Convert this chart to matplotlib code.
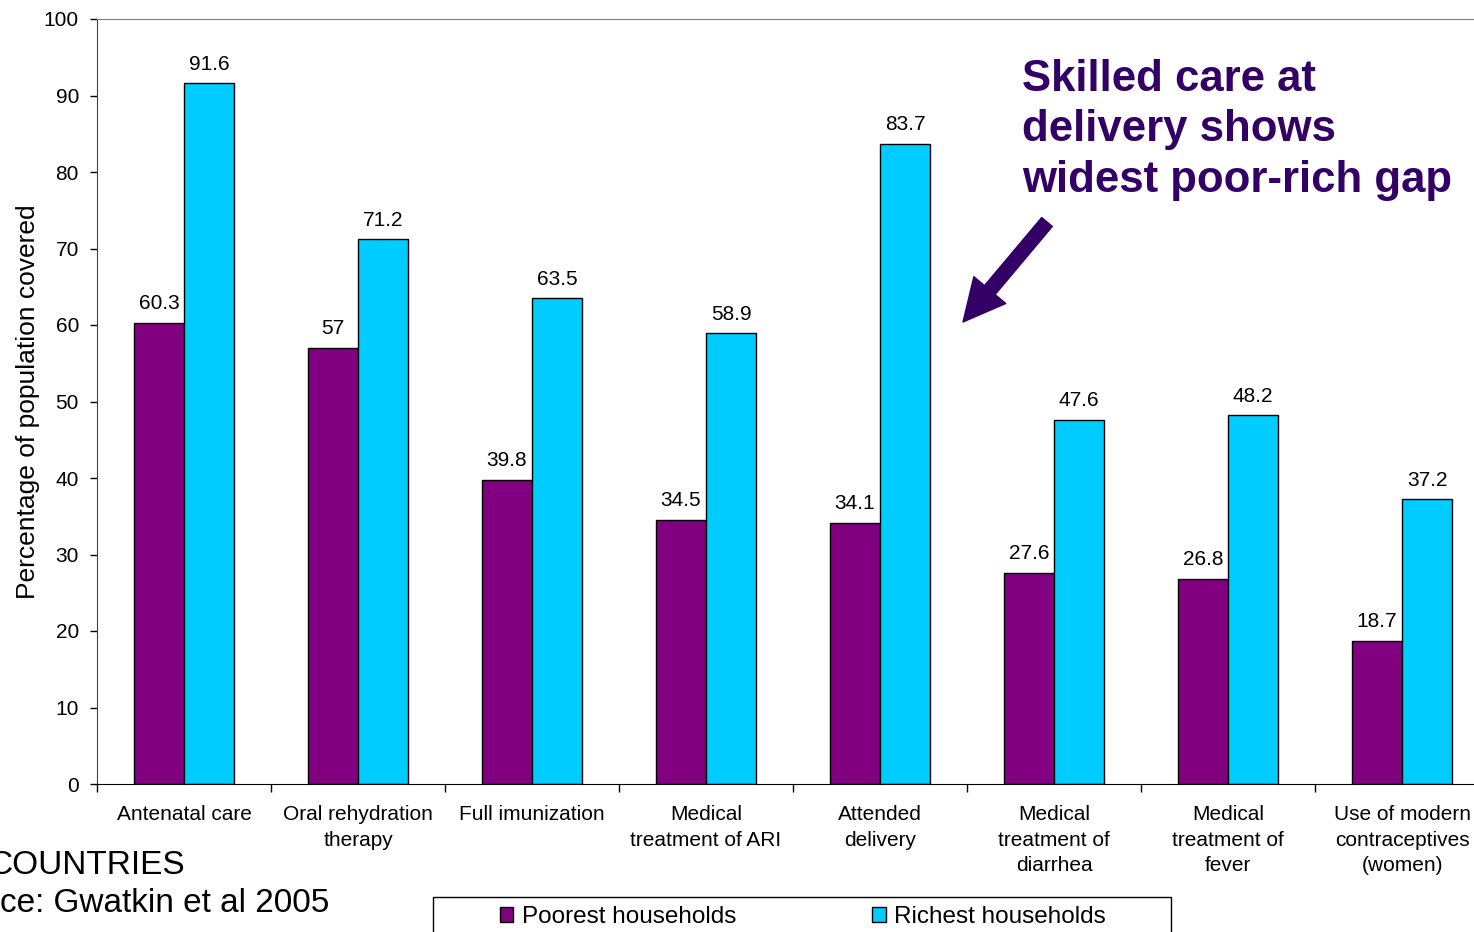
import matplotlib.pyplot as plt
import numpy as np
from matplotlib.patches import Rectangle

plt.rcParams['font.family'] = ['Liberation Sans', 'DejaVu Sans']

categories = ['Antenatal care', 'Oral rehydration\ntherapy', 'Full imunization',
              'Medical\ntreatment of ARI', 'Attended\ndelivery',
              'Medical\ntreatment of\ndiarrhea', 'Medical\ntreatment of\nfever',
              'Use of modern\ncontraceptives\n(women)']
poorest = [60.3, 57, 39.8, 34.5, 34.1, 27.6, 26.8, 18.7]
richest = [91.6, 71.2, 63.5, 58.9, 83.7, 47.6, 48.2, 37.2]
poor_labels = ['60.3', '57', '39.8', '34.5', '34.1', '27.6', '26.8', '18.7']
rich_labels = ['91.6', '71.2', '63.5', '58.9', '83.7', '47.6', '48.2', '37.2']

W, H = 1474, 932
fig = plt.figure(figsize=(W / 100, H / 100), dpi=100)
ax = fig.add_axes([97 / W, (H - 784) / H, (1489 - 97) / W, (784 - 19) / H])

purple = '#800080'
cyan = '#00CCFF'
bw = 50 / 174
x = np.arange(len(categories)) + 0.5

b1 = ax.bar(x - bw / 2, poorest, bw, color=purple, edgecolor='black', linewidth=1)
b2 = ax.bar(x + bw / 2, richest, bw, color=cyan, edgecolor='black', linewidth=1)

for bars, labels in ((b1, poor_labels), (b2, rich_labels)):
    for bar, lab in zip(bars, labels):
        ax.annotate(lab, (bar.get_x() + bar.get_width() / 2, bar.get_height()),
                    xytext=(0, 7), textcoords='offset points',
                    ha='center', va='bottom', fontsize=15)

ax.set_xlim(0, len(categories))
ax.set_ylim(0, 100)
ax.set_yticks(range(0, 101, 10))
ax.tick_params(axis='y', labelsize=15, length=5, width=1, pad=8)

ax.set_xticks(np.arange(len(categories) + 1))
ax.set_xticklabels([])
ax.tick_params(axis='x', which='major', length=6, width=1)
ax.set_xticks(x, minor=True)
ax.set_xticklabels(categories, minor=True, fontsize=15, linespacing=1.45)
ax.tick_params(axis='x', which='minor', length=0, pad=15)

ax.set_ylabel('Percentage of population covered', fontsize=19, labelpad=3)

ax.spines['right'].set_visible(False)
ax.spines['top'].set_color('#808080')
ax.spines['left'].set_color('#404040')

# callout
fig.text(1022 / W, (H - 59) / H, 'Skilled care at\ndelivery shows\nwidest poor-rich gap',
         fontsize=31.5, fontweight='bold', color='#330066', ha='left', va='top',
         linespacing=1.29)
ax.annotate('', xy=(963, H - 322), xytext=(1047, H - 222),
            xycoords='figure pixels', textcoords='figure pixels',
            arrowprops=dict(arrowstyle='simple,head_length=1.5,head_width=1.5,tail_width=0.5',
                            mutation_scale=20, color='#330066', shrinkA=0, shrinkB=0))

# source notes
fig.text(-12 / W, (H - 865) / H, 'COUNTRIES', fontsize=24, va='center', ha='left')
fig.text(0, (H - 904) / H, 'ce: Gwatkin et al 2005', fontsize=24, va='center', ha='left')

# legend box
fig.add_artist(Rectangle((433 / W, -0.05), 738 / W, (H - 897) / H + 0.05,
                         transform=fig.transFigure, fill=False, ec='black', lw=1))
fig.legend([b1, b2], ['Poorest households', 'Richest households'],
           loc='center left', bbox_to_anchor=(500 / W, (H - 917) / H), ncol=2,
           frameon=False, fontsize=17.5, handlelength=0.55, handleheight=0.55,
           handletextpad=0.35, columnspacing=5.6, borderpad=0, borderaxespad=0)

fig.savefig('out.png', dpi=100)
